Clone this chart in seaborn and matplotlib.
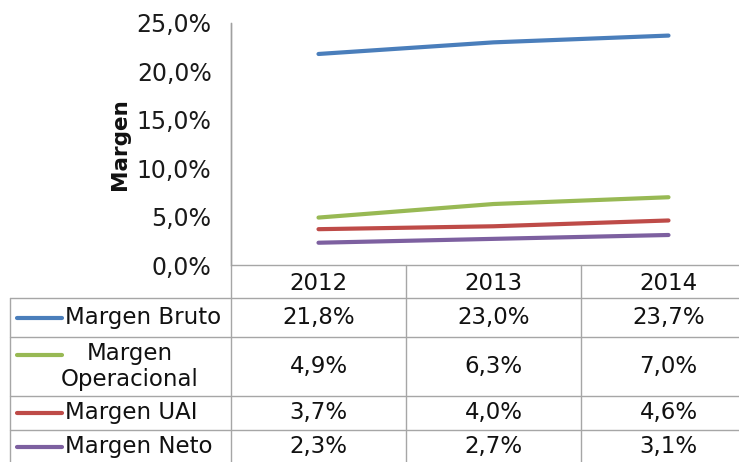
import matplotlib
matplotlib.use("Agg")
import matplotlib.pyplot as plt
from matplotlib.transforms import blended_transform_factory
import seaborn as sns
import pandas as pd

years = ["2012", "2013", "2014"]
series_names = ["Margen Bruto", "Margen Operacional", "Margen UAI", "Margen Neto"]
table_labels = ["Margen Bruto", "Margen\nOperacional", "Margen UAI", "Margen Neto"]
margen_bruto = [0.218, 0.230, 0.237]
margen_operacional = [0.049, 0.063, 0.070]
margen_uai = [0.037, 0.040, 0.046]
margen_neto = [0.023, 0.027, 0.031]
y_ticks = [0.0, 0.05, 0.10, 0.15, 0.20, 0.25]

colors = ["#4A7EBB", "#98B954", "#BE4B48", "#7D60A0"]
all_values = [margen_bruto, margen_operacional, margen_uai, margen_neto]

rows = []
for name, vals in zip(series_names, all_values):
    for i, (yr, v) in enumerate(zip(years, vals)):
        rows.append({"serie": name, "idx": i, "year": yr, "value": v})
df = pd.DataFrame(rows)

sns.set_style("white")
plt.rcParams["font.family"] = ["DejaVu Sans"]

W, H = 739, 462
fig = plt.figure(figsize=(W / 100, H / 100), dpi=100)

# overlay axes in pixel coordinates for the data table
ov = fig.add_axes([0, 0, 1, 1])
ov.set_xlim(0, W)
ov.set_ylim(H, 0)
ov.axis("off")

x0, x1 = 231, 756
ytop, ybot = 23, 265
ax = fig.add_axes([x0 / W, (H - ybot) / H, (x1 - x0) / W, (ybot - ytop) / H])
ax.patch.set_alpha(0)

sns.lineplot(data=df, x="idx", y="value", hue="serie", hue_order=series_names,
             palette=colors, linewidth=3, legend=False, ax=ax, sort=False)

ax.set_xlim(-0.5, len(years) - 0.5)
ax.set_ylim(0, 0.25)
ax.set_yticks(y_ticks)
ax.set_yticklabels([f"{t*100:.1f}%".replace(".", ",") for t in y_ticks], fontsize=17, color="#1a1a1a")
ax.set_xticks([])
ax.set_xlabel("")
ax.set_ylabel("Margen", fontsize=15.5, fontweight="bold", labelpad=5, color="#111111")
ax.tick_params(axis="y", length=0, pad=14)
for s in ["top", "right", "bottom"]:
    ax.spines[s].set_visible(False)
ax.spines["left"].set_color("#A0A0A0")
ax.spines["left"].set_linewidth(1)

# Table
tr = blended_transform_factory(ax.transData, ov.transData)
grid_c = "#A6A6A6"
row_edges = [265, 298, 337, 396, 430, 470]
left_edge = 10
fs = 16.5

ov.plot([x0, W], [row_edges[0]] * 2, color=grid_c, lw=1)
for yb in row_edges[1:-1]:
    ov.plot([left_edge, W], [yb, yb], color=grid_c, lw=1)
ov.plot([x0, x0], [ytop, row_edges[-1]], color=grid_c, lw=1)
ov.plot([left_edge, left_edge], [row_edges[1], row_edges[-1]], color=grid_c, lw=1)
for k in range(1, len(years)):
    ax_x = k - 0.5
    ov.plot([ax_x, ax_x], [row_edges[0], row_edges[-1]], color=grid_c, lw=1, transform=tr)

hy = (row_edges[0] + row_edges[1]) / 2
for i, yr in enumerate(years):
    ov.text(i, hy + 2, yr, transform=tr, ha="center", va="center", fontsize=fs, color="#111111")

for r, (lab, vals, c) in enumerate(zip(table_labels, all_values, colors)):
    ya = row_edges[r + 1]
    yc = (row_edges[r + 1] + row_edges[r + 2]) / 2 if r < 3 else (ya + 462) / 2 + 1
    if "\n" in lab:
        ov.text(130, yc, lab, ha="center", va="center", fontsize=fs, color="#111111", linespacing=1.15)
        key_y = yc - 12
    else:
        ov.text(65, yc, lab, ha="left", va="center", fontsize=fs, color="#111111")
        key_y = yc
    ov.plot([17, 62], [key_y, key_y], color=c, lw=3, solid_capstyle="round")
    for i, v in enumerate(vals):
        ov.text(i, yc, f"{v*100:.1f}%".replace(".", ","), transform=tr,
                ha="center", va="center", fontsize=fs, color="#111111")

fig.savefig("out.png", dpi=100)
